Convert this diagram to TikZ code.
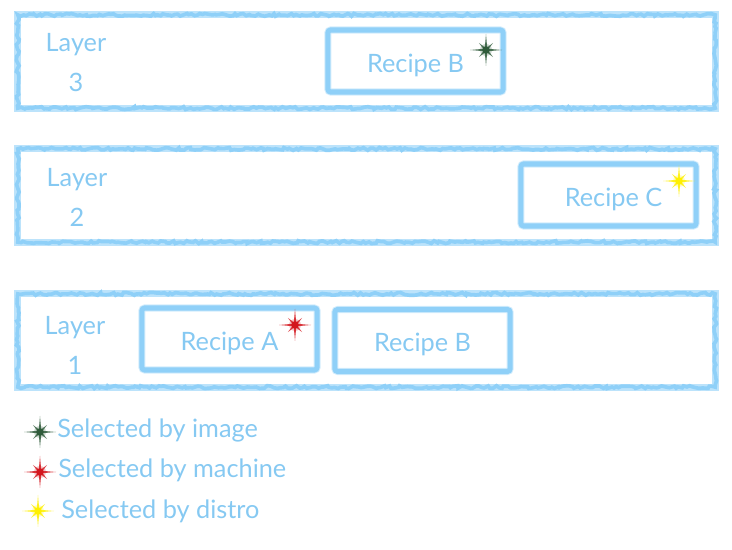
\documentclass[tikz,border=0pt]{standalone}
\usepackage{fontspec}
\setmainfont{Lato}
\usepackage{tikz}
\usetikzlibrary{decorations.pathmorphing,positioning}
\definecolor{chalkblue}{HTML}{8FD0F8}
\definecolor{inkblue}{HTML}{86C9F2}
\definecolor{starimage}{HTML}{2F5B3A}
\definecolor{starmachine}{HTML}{D3161D}
\definecolor{stardistro}{HTML}{FFF000}

\tikzset{
  pics/sparkle/.style={code={
    \fill[pic actions, opacity=0.25] (0,0) circle (6);
    \foreach \r/\o in {16/0, 10/45}
      \fill[pic actions, rotate=\o, fill opacity=0.85] (0:\r) -- (45:1.8) -- (90:\r) -- (135:1.8) -- (180:\r) -- (225:1.8) -- (270:\r) -- (315:1.8) -- cycle;
    \fill[pic actions] (0,0) circle (3.8);
  }}
}

\begin{document}
\begin{tikzpicture}[x=0.025cm, y=-0.025cm, every node/.style={font=\fontsize{18}{28.4}\selectfont, text=inkblue},
  layerbox/.style={draw=chalkblue!60, line width=5pt, minimum width=17.43cm, minimum height=2.33cm, inner sep=0pt,
    postaction={draw=chalkblue, line width=2.6pt, decorate, decoration={random steps, segment length=2pt, amplitude=1pt}}},
  recipebox/.style={draw=chalkblue, line width=3.6pt, rounded corners=2pt, minimum width=4.38cm, minimum height=1.55cm, inner sep=0pt,
    preaction={draw=chalkblue!40, line width=5pt}},
  layerlabel/.style={align=center, inner sep=0pt},
  legendtext/.style={anchor=base west, inner sep=0pt}]
  \useasboundingbox (0,0) rectangle (732,550);

  % layers
  \node[layerbox] (layer3) at (366.5,61.5) {};
  \node[layerbox] (layer2) at (366.5,195.5) {};
  \node[layerbox] (layer1) at (366.5,340.5) {};
  \node[layerlabel] (lab3) at (76,63) {Layer\\3};
  \node[layerlabel] (lab2) at (77,197) {Layer\\2};
  \node[layerlabel] (lab1) at (75,345) {Layer\\1};

  % recipes
  \node[recipebox] (recB3) at (415.5,61) {\rule{0pt}{20pt}Recipe B};
  \node[recipebox] (recC) at (608.5,195) {\hspace*{0.25cm}\rule{0pt}{19pt}Recipe C};
  \node[recipebox] (recA) at (229.5,339) {\rule{0pt}{19pt}Recipe A};
  \node[recipebox] (recB1) at (422.5,340.5) {\rule{0pt}{19pt}Recipe B};

  \pic[fill=starimage] at (486,50) {sparkle};
  \pic[fill=stardistro] at (679,181) {sparkle};
  \pic[fill=starmachine] at (295,325) {sparkle};

  % legend
  \pic[fill=starimage] at (40,432) {sparkle};
  \pic[fill=starmachine] at (40,472) {sparkle};
  \pic[fill=stardistro] at (38,511) {sparkle};
  \node[legendtext] (legimage) at (57,438) {Selected by image};
  \node[legendtext] (legmachine) at (58,478) {Selected by machine};
  \node[legendtext] (legdistro) at (61,519) {Selected by distro};
\end{tikzpicture}
\end{document}
